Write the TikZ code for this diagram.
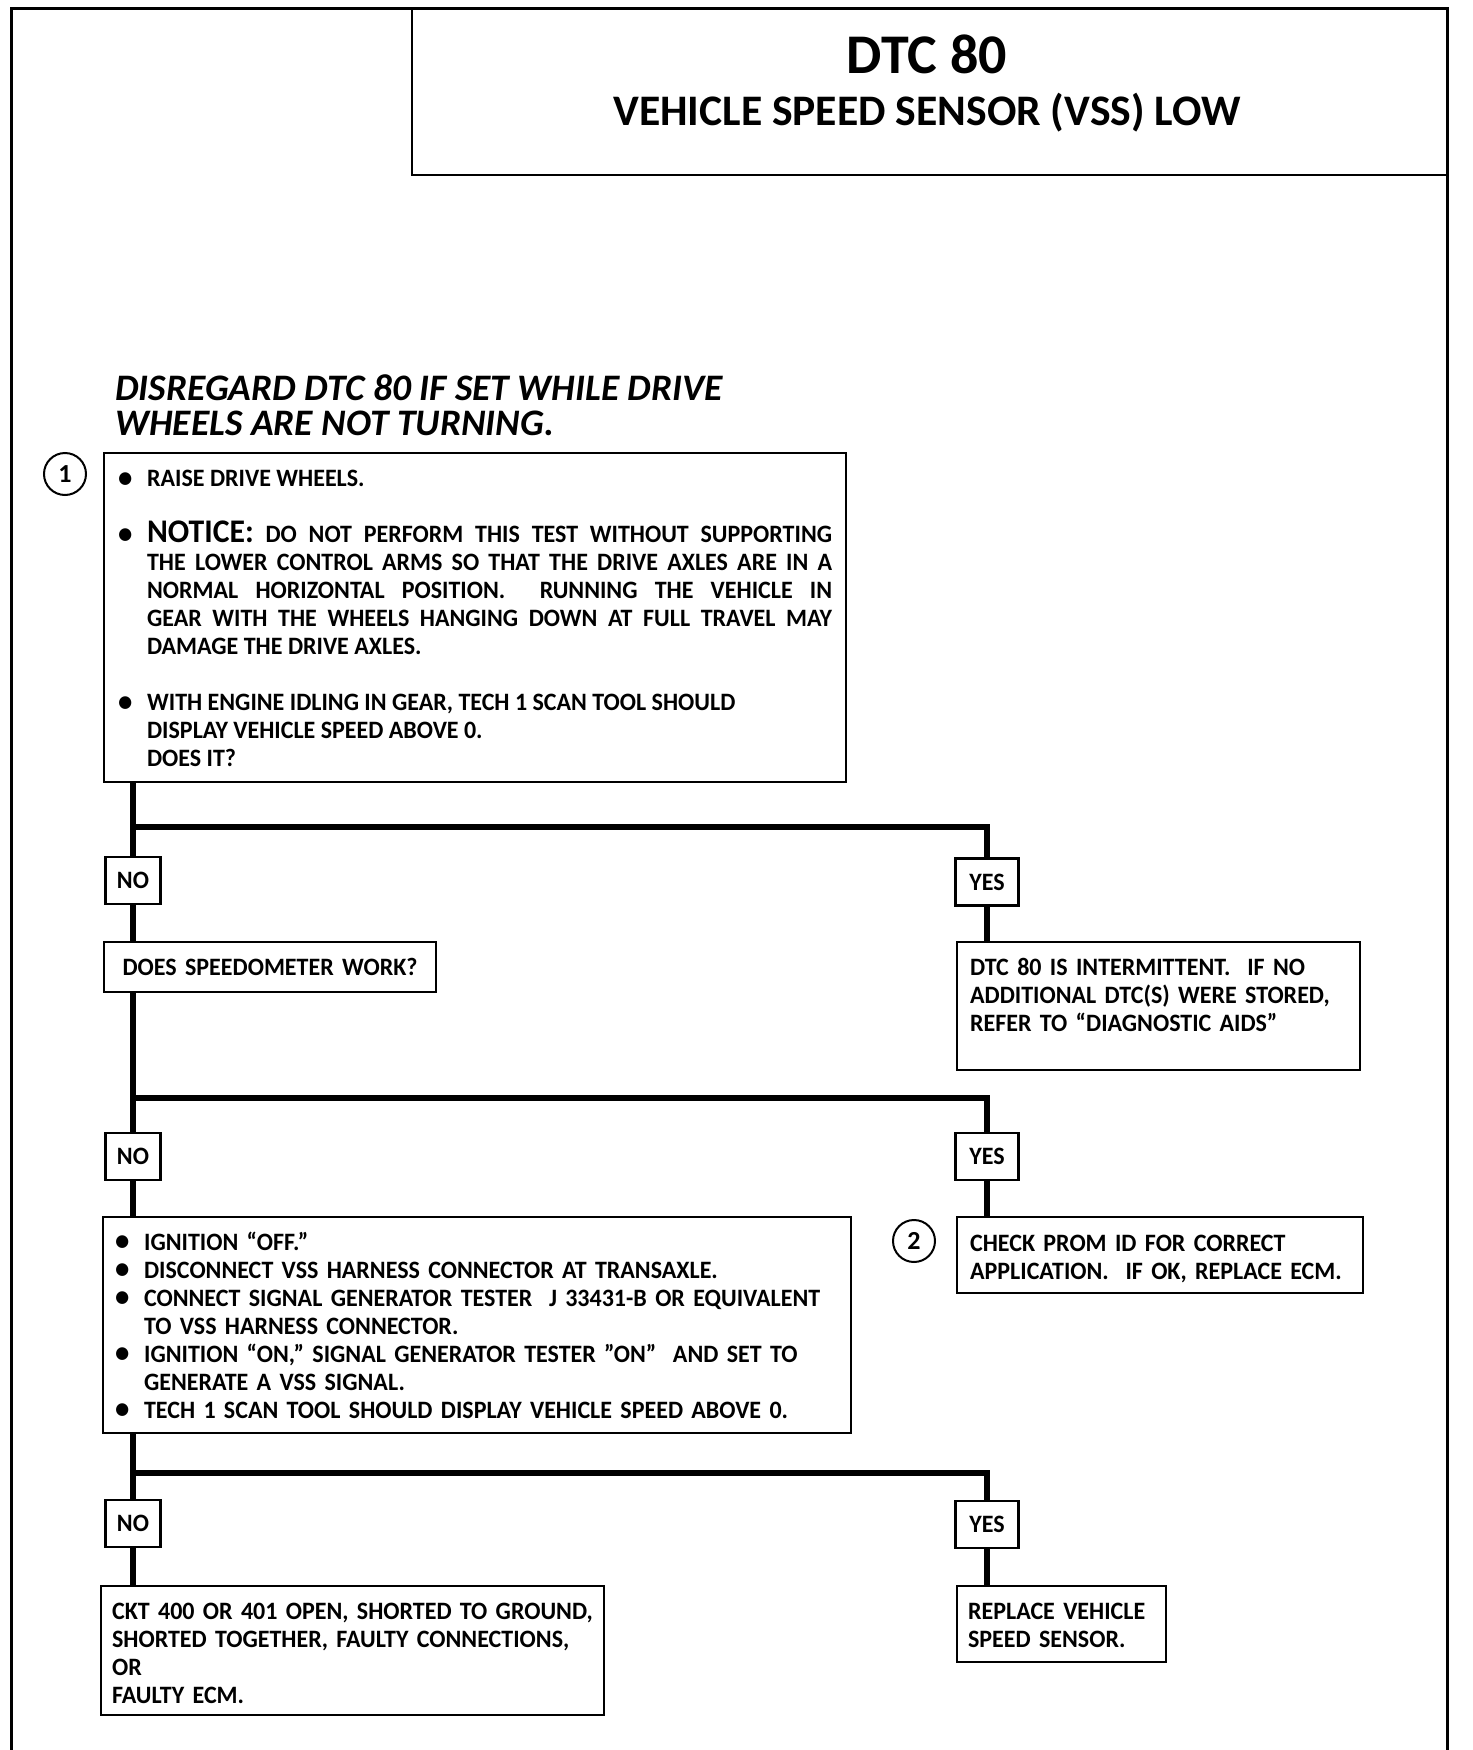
\documentclass[tikz,border=0pt]{standalone}
\usepackage{fontspec}
\setmainfont{Carlito}
\newfontfamily\bodyface{Carlito}[FakeStretch=0.96]
\usepackage{tikz}
\usetikzlibrary{positioning}

\newcommand{\bodyfont}{\bodyface\fontsize{12.5pt}{14pt}\selectfont\bfseries}
\newcommand{\dotmark}{\smash{\raisebox{-0.4pt}{\fontsize{15pt}{14pt}\selectfont\textbullet}}}
\newcommand{\itm}{\noindent\hangindent=14.5pt\hangafter=1\makebox[14.5pt][l]{\dotmark}}

\begin{document}
\begin{tikzpicture}[x=0.5pt,y=-0.5pt,
    frame/.style={line width=1.5pt},
    box/.style={draw,line width=1.1pt,anchor=north west,inner ysep=0pt,font=\bodyfont,align=left},
    tag/.style={draw,line width=1.1pt,minimum height=23.5pt,inner sep=0pt,font=\bodyfont},
    notag/.style={tag,minimum width=27.5pt},
    yestag/.style={tag,minimum width=31.5pt},
    num/.style={draw,circle,line width=1pt,minimum size=21pt,inner sep=0pt,font=\fontsize{13pt}{14pt}\selectfont\bfseries},
    warn/.style={anchor=base west,inner sep=0pt,font=\fontsize{18.7pt}{18pt}\selectfont\bfseries\itshape},
    flow/.style={line width=3pt}]
  \useasboundingbox (0,0) rectangle (1472,1750);
  % page frame and title block
  \draw[frame] (11,1750) -- (11,9) -- (1447,9) -- (1447,1750);
  \draw[line width=1.3pt] (412,9) -- (412,175) -- (1447,175);
  \node[anchor=base,inner sep=0pt,font=\fontsize{28pt}{30pt}\selectfont\bfseries] (dtc) at (927,74) {DTC 80};
  \node[anchor=base,inner sep=0pt,font=\fontsize{21.8pt}{24pt}\selectfont\bfseries] (vss) at (927,126) {VEHICLE SPEED SENSOR (VSS) LOW};
  \node[warn] (warn1) at (115,400) {DISREGARD DTC 80 IF SET WHILE DRIVE};
  \node[warn] (warn2) at (115,435) {WHEELS ARE NOT TURNING.};

  % step 1
  \node[num] (c1) at (65,474) {1};
  \node[box,align=justify,inner xsep=7pt,text width=357pt,text height=16.75pt,text depth=147.75pt] (raise) at (103,452) {%
    \itm RAISE DRIVE WHEELS.\par\vspace{14pt}
    \itm {\fontsize{16.5pt}{14pt}\selectfont NOTICE:} DO NOT PERFORM THIS TEST WITHOUT SUPPORTING\linebreak
    THE LOWER CONTROL ARMS SO THAT THE DRIVE AXLES ARE IN A\linebreak
    NORMAL HORIZONTAL POSITION.\ \ RUNNING THE VEHICLE IN\linebreak
    GEAR WITH THE WHEELS HANGING DOWN AT FULL TRAVEL MAY\linebreak
    DAMAGE THE DRIVE AXLES.\par\vspace{14pt}
    \itm WITH ENGINE IDLING IN GEAR, TECH 1 SCAN TOOL SHOULD\newline
    DISPLAY VEHICLE SPEED ABOVE 0.\newline
    DOES IT?\par};
  \node[notag] (no1) at (133,880.5) {NO};
  \node[yestag] (yes1) at (987,882) {YES};
  \node[box,align=center,inner xsep=5pt,text width=156pt,minimum height=25pt] (speedo) at (103,941) {DOES SPEEDOMETER WORK?};
  \node[box,inner xsep=6.5pt,text width=188.5pt,text height=16.75pt,text depth=47.25pt] (intermit) at (956,941) {%
    DTC 80 IS INTERMITTENT.\ \ IF NO\\
    ADDITIONAL DTC(S) WERE STORED,\\
    REFER TO “DIAGNOSTIC AIDS”};

  % speedometer check
  \node[notag] (no2) at (133,1156.5) {NO};
  \node[yestag] (yes2) at (987,1156.5) {YES};
  \node[box,inner xsep=6pt,text width=362pt,text height=16.5pt,text depth=91.5pt] (signal) at (102,1216) {%
    \itm IGNITION “OFF.”\par
    \itm DISCONNECT VSS HARNESS CONNECTOR AT TRANSAXLE.\par
    \itm CONNECT SIGNAL GENERATOR TESTER\ \ J 33431-B OR EQUIVALENT\newline
    TO VSS HARNESS CONNECTOR.\par
    \itm IGNITION “ON,” SIGNAL GENERATOR TESTER ”ON”\ \ AND SET TO\newline
    GENERATE A VSS SIGNAL.\par
    \itm TECH 1 SCAN TOOL SHOULD DISPLAY VEHICLE SPEED ABOVE 0.\par};
  \node[num] (c2) at (914,1241) {2};
  \node[box,inner xsep=6.5pt,text width=190pt,text height=17pt,text depth=21pt] (prom) at (956,1216) {%
    CHECK PROM ID FOR CORRECT\\
    APPLICATION.\ \ IF OK, REPLACE ECM.};

  % signal generator check
  \node[notag] (no3) at (133,1523.5) {NO};
  \node[yestag] (yes3) at (987,1524.5) {YES};
  \node[box,inner xsep=5.5pt,text width=240.5pt,text height=16.5pt,text depth=48pt] (ckt) at (100,1585) {%
    CKT 400 OR 401 OPEN, SHORTED TO GROUND,\\
    SHORTED TOGETHER, FAULTY CONNECTIONS,\\
    OR\\
    FAULTY ECM.};
  \node[box,inner xsep=5.5pt,text width=93.5pt,text height=16.5pt,text depth=21.5pt] (vssrep) at (956,1585) {%
    REPLACE VEHICLE\\
    SPEED SENSOR.};

  % connectors
  \coordinate (split1) at (133,827);
  \coordinate (split2) at (133,1098);
  \coordinate (split3) at (133,1473);
  \draw[flow] (no1.north |- raise.south) -- (no1.north);
  \draw[flow] (split1) -| (yes1.north);
  \draw[flow] (no1.south) -- (no1.south |- speedo.north);
  \draw[flow] (yes1.south) -- (yes1.south |- intermit.north);
  \draw[flow] (no2.north |- speedo.south) -- (no2.north);
  \draw[flow] (split2) -| (yes2.north);
  \draw[flow] (no2.south) -- (no2.south |- signal.north);
  \draw[flow] (yes2.south) -- (yes2.south |- prom.north);
  \draw[flow] (no3.north |- signal.south) -- (no3.north);
  \draw[flow] (split3) -| (yes3.north);
  \draw[flow] (no3.south) -- (no3.south |- ckt.north);
  \draw[flow] (yes3.south) -- (yes3.south |- vssrep.north);
\end{tikzpicture}
\end{document}
